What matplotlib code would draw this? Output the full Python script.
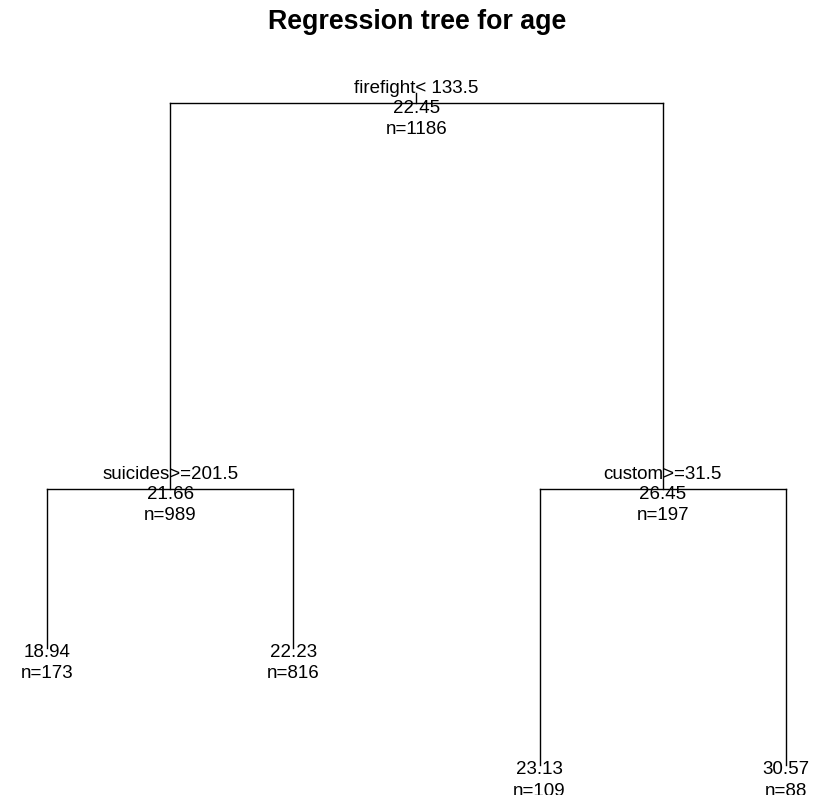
import matplotlib.pyplot as plt

plt.rcParams['font.family'] = ['Liberation Sans', 'DejaVu Sans']

# Tree nodes (rpart style): id, parent, split label, mean, n, height
node_ids = [1, 2, 3, 4, 5, 6, 7]
parents = [0, 1, 1, 2, 2, 3, 3]
splits = ["firefight< 133.5", "suicides>=201.5", "custom>=31.5", "", "", "", ""]
means = ["22.45", "21.66", "26.45", "18.94", "22.23", "23.13", "30.57"]
counts = [1186, 989, 197, 173, 816, 109, 88]
heights = [1.0, 0.417, 0.417, 0.177, 0.177, 0.0, 0.0]

# leaves get positions 1..k in order, internal nodes sit at the middle of their children
children = {i: [c for c, p in zip(node_ids, parents) if p == i] for i in node_ids}
xpos = {}
leaf_no = [0]


def place(i):
    kids = children[i]
    if not kids:
        leaf_no[0] += 1
        xpos[i] = leaf_no[0]
    else:
        for k in kids:
            place(k)
        xpos[i] = sum(xpos[k] for k in kids) / len(kids)


place(1)
ypos = dict(zip(node_ids, heights))

fig = plt.figure(figsize=(8.24, 7.95), dpi=100)
ax = fig.add_axes([0, 0, 1, 1])
ax.set_xlim(0.809, 4.155)
ax.set_ylim(-0.045, 1.156)
ax.axis('off')

lw = 1.0
for i, p in zip(node_ids, parents):
    if p == 0:
        # little stub above the root
        ax.plot([xpos[i], xpos[i]], [ypos[i], ypos[i] + 0.016], color='black', lw=lw)
        continue
    ax.plot([xpos[i], xpos[i]], [ypos[i], ypos[p]], color='black', lw=lw)
for i in node_ids:
    kids = children[i]
    if kids:
        xs = [xpos[k] for k in kids]
        ax.plot([min(xs), max(xs)], [ypos[i], ypos[i]], color='black', lw=lw)

fs = 13.5
for i, sp, m, n in zip(node_ids, splits, means, counts):
    x, y = xpos[i], ypos[i]
    if children[i]:
        ax.annotate(sp, (x, y), xytext=(0, 10.8), textcoords='offset points',
                    ha='center', va='center', fontsize=fs)
        ax.annotate(m, (x, y), xytext=(0, -3.6), textcoords='offset points',
                    ha='center', va='center', fontsize=fs)
        ax.annotate(f"n={n}", (x, y), xytext=(0, -19.2), textcoords='offset points',
                    ha='center', va='center', fontsize=fs)
    else:
        ax.annotate(m, (x, y), xytext=(0, -3.0), textcoords='offset points',
                    ha='center', va='center', fontsize=fs)
        ax.annotate(f"n={n}", (x, y), xytext=(0, -18.6), textcoords='offset points',
                    ha='center', va='center', fontsize=fs)

fig.text(0.506, 1 - 22 / 795, "Regression tree for age", ha='center', va='center',
         fontsize=19.3, fontweight='bold')

fig.savefig("out.png", dpi=100)
